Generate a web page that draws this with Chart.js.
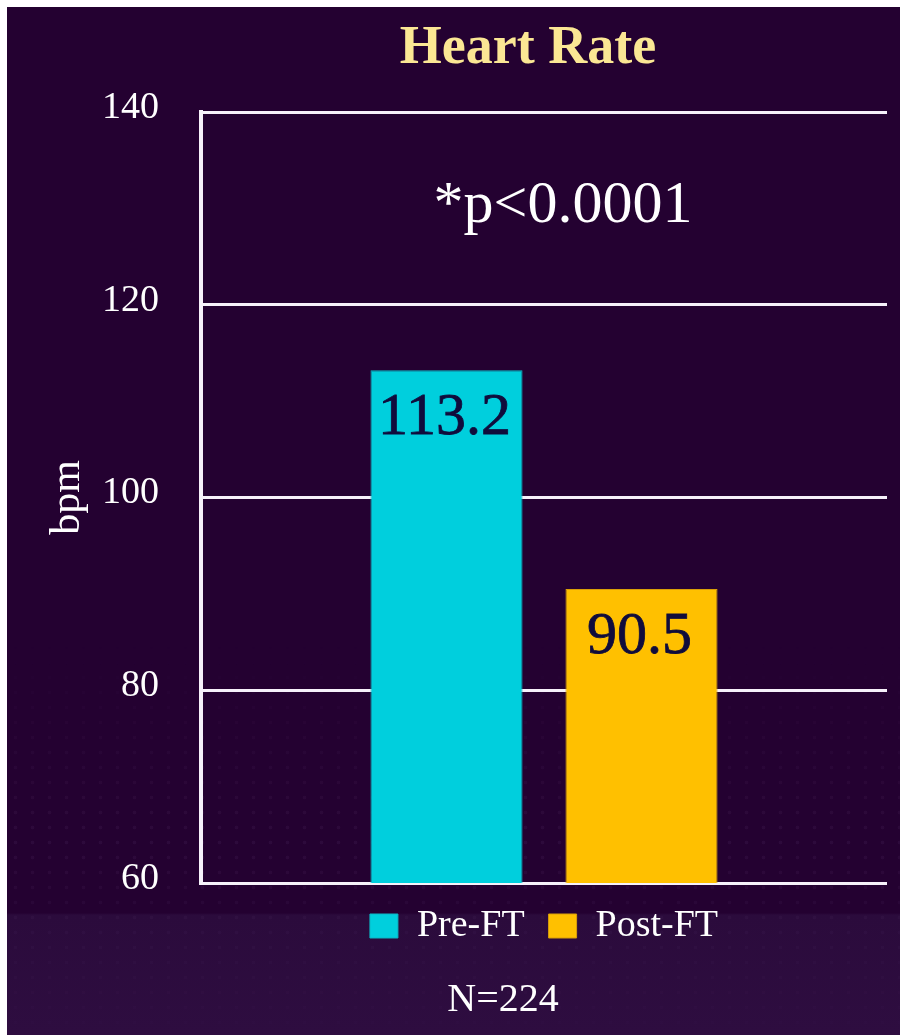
<!DOCTYPE html>
<html>
<head>
<meta charset="utf-8">
<title>Heart Rate</title>
<script src="https://cdn.jsdelivr.net/npm/chart.js@4/dist/chart.umd.min.js"></script>
<style>
  html, body { margin: 0; padding: 0; background: #ffffff; }
  body { width: 900px; height: 1035px; position: relative; overflow: hidden; }
  .panel {
    position: absolute; left: 7px; top: 7px; right: 0; bottom: 0;
    background: linear-gradient(to bottom, #240131 0px, #240131 906px, #2b0b3c 908px, #2e0d40 1028px);
  }
  .dots {
    position: absolute; left: 7px; top: 640px; right: 0; bottom: 0;
    background-image: radial-gradient(circle, rgba(200, 170, 230, 0.06) 1.4px, rgba(0,0,0,0) 2.2px);
    background-size: 17px 15px;
    -webkit-mask-image: linear-gradient(to bottom, rgba(0,0,0,0) 0%, rgba(0,0,0,1) 50%, rgba(0,0,0,0.5) 75%, rgba(0,0,0,0.15) 100%);
    mask-image: linear-gradient(to bottom, rgba(0,0,0,0) 0%, rgba(0,0,0,1) 50%, rgba(0,0,0,0.5) 75%, rgba(0,0,0,0.15) 100%);
  }
  .wrap { position: absolute; left: 0; top: 0; width: 900px; height: 1035px; }
</style>
</head>
<body>
<div class="panel"></div>
<div class="dots"></div>
<div class="wrap"><canvas id="chart"></canvas></div>
<script>
// Chart content
const chartTitle = 'Heart Rate';
const categories = [chartTitle];
const seriesNames = ['Pre-FT', 'Post-FT'];
const preFT = [113.2];
const postFT = [90.5];
const yTicks = [60, 80, 100, 120, 140];
const yAxisTitle = 'bpm';
const pValueText = '*p<0.0001';
const sampleText = 'N=224';

const SERIF = "'Liberation Serif', 'Times New Roman', serif";

// Title, significance note and sample size drawn around the plot area
const textBlocks = {
  id: 'textBlocks',
  afterDraw(chart) {
    const { ctx, chartArea } = chart;
    const cx = (chartArea.left + chartArea.right) / 2;
    ctx.save();
    ctx.textAlign = 'center';
    ctx.textBaseline = 'alphabetic';

    ctx.fillStyle = '#fbe794';
    ctx.font = 'bold 54px ' + SERIF;
    ctx.fillText(chartTitle, cx - 16, 63);

    ctx.fillStyle = '#ffffff';
    ctx.font = '60px ' + SERIF;
    ctx.fillText(pValueText, cx + 19, chartArea.top + 110);

    ctx.font = '40px ' + SERIF;
    ctx.fillText(sampleText, cx - 41, 1011);
    ctx.restore();
  }
};

// Value printed near the top of each bar
const barValues = {
  id: 'barValues',
  afterDatasetsDraw(chart) {
    const { ctx } = chart;
    ctx.save();
    ctx.fillStyle = '#100c3c';
    ctx.strokeStyle = '#100c3c';
    ctx.lineWidth = 0.8;
    ctx.font = '60px ' + SERIF;
    ctx.textAlign = 'center';
    ctx.textBaseline = 'alphabetic';
    chart.data.datasets.forEach((ds, i) => {
      const meta = chart.getDatasetMeta(i);
      meta.data.forEach((bar, j) => {
        const label = ds.data[j].toFixed(1);
        ctx.fillText(label, bar.x - 2, bar.y + 64);
        ctx.strokeText(label, bar.x - 2, bar.y + 64);
      });
    });
    ctx.restore();
  }
};

new Chart(document.getElementById('chart'), {
  type: 'bar',
  data: {
    labels: categories,
    datasets: [
      {
        label: seriesNames[0],
        data: preFT,
        backgroundColor: '#00cfdd',
        borderColor: '#0bb6c4',
        borderWidth: 1
      },
      {
        label: seriesNames[1],
        data: postFT,
        backgroundColor: '#ffc000',
        borderColor: '#d99f08',
        borderWidth: 1
      }
    ]
  },
  options: {
    responsive: true,
    maintainAspectRatio: false,
    animation: false,
    devicePixelRatio: 1,
    categoryPercentage: 0.5685,
    barPercentage: 0.78,
    layout: { padding: { top: 112, right: 13, bottom: 80, left: 0 } },
    scales: {
      x: { display: false },
      y: {
        min: yTicks[0],
        max: yTicks[yTicks.length - 1],
        afterBuildTicks(scale) {
          scale.ticks = yTicks.map(v => ({ value: v }));
        },
        afterFit(scale) { scale.width = 201; },
        ticks: {
          color: '#ffffff',
          font: { family: SERIF, size: 38 },
          padding: 42,
          labelOffset: -4
        },
        grid: {
          color: '#f6f1fa',
          lineWidth: 3,
          drawTicks: false
        },
        border: { display: true, color: '#f6f1fa', width: 4 },
        title: {
          display: true,
          text: yAxisTitle,
          color: '#ffffff',
          font: { family: SERIF, size: 42 },
          padding: { top: 43, bottom: 0 }
        }
      }
    },
    plugins: {
      legend: {
        position: 'bottom',
        fullSize: false,
        labels: {
          color: '#ffffff',
          font: { family: SERIF, size: 38 },
          boxWidth: 28,
          boxHeight: 24,
          padding: 24
        }
      },
      title: { display: false },
      tooltip: { enabled: false }
    }
  },
  plugins: [textBlocks, barValues]
});
</script>
</body>
</html>
